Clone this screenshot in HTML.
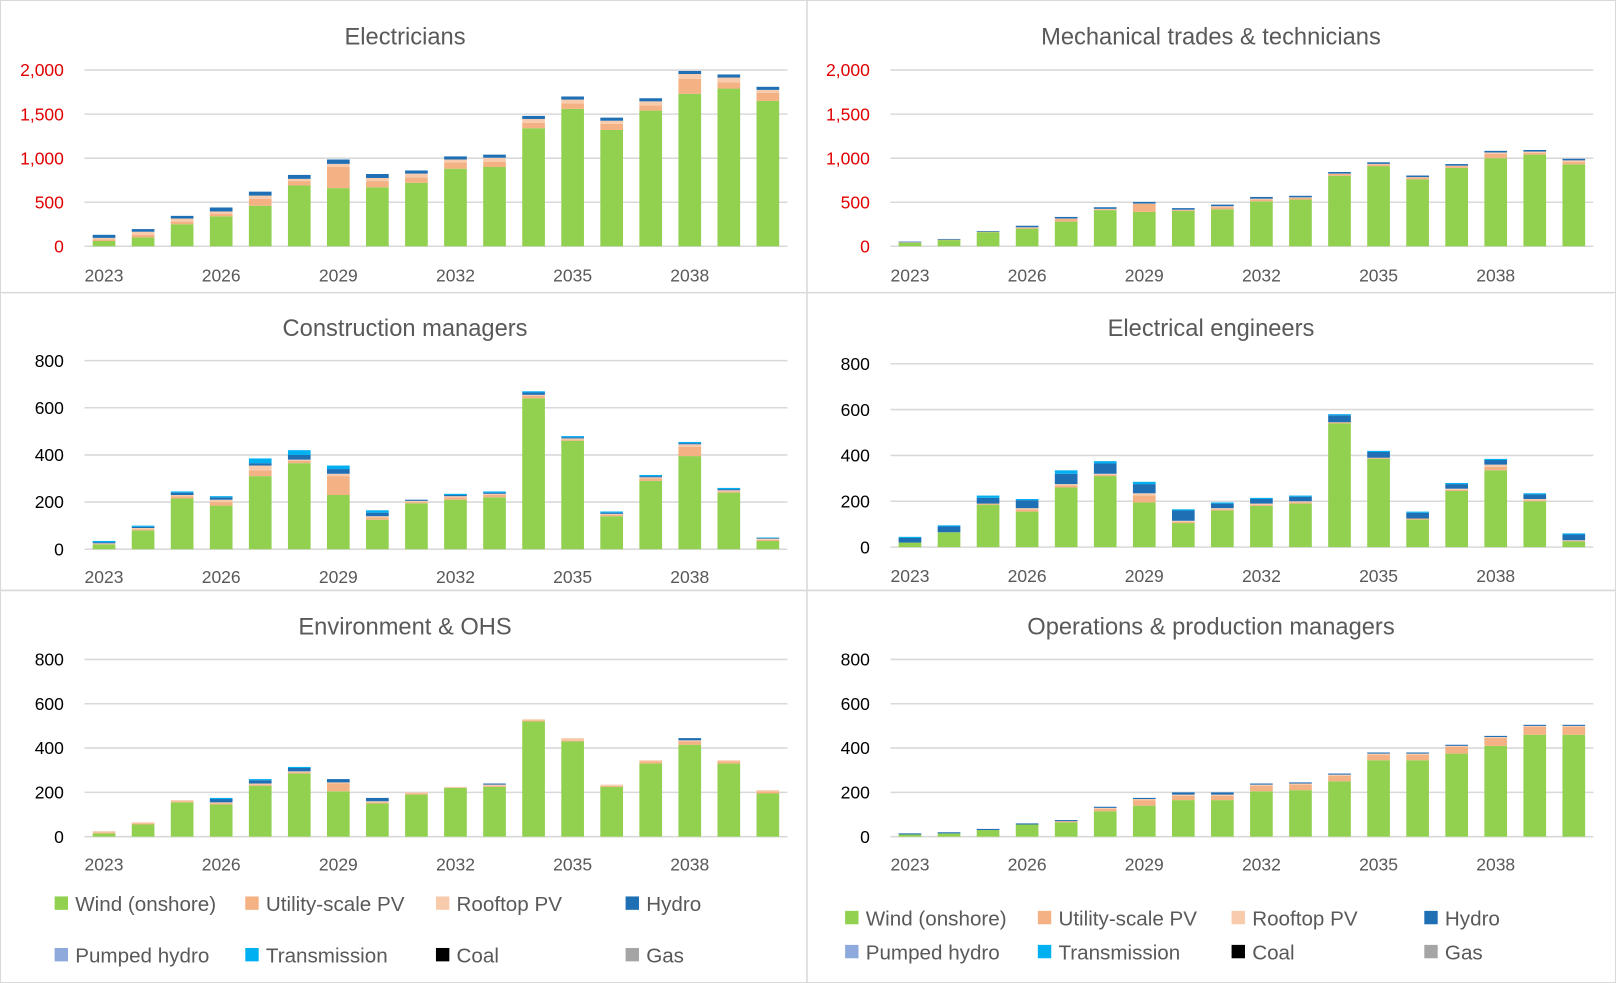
<!DOCTYPE html>
<html><head><meta charset="utf-8"><style>
html,body{margin:0;padding:0;background:#fff;}
svg{display:block;font-family:"Liberation Sans",Calibri,sans-serif;}
</style></head><body>
<svg id="root" width="1616" height="983" viewBox="0 0 1568 954" preserveAspectRatio="none" xmlns="http://www.w3.org/2000/svg">
<rect x="0.5" y="0.5" width="1567" height="953" fill="#fff" stroke="#d9d9d9"/>
<line x1="783" y1="0" x2="783" y2="954" stroke="#d9d9d9" stroke-width="1.5"/>
<line x1="0" y1="284" x2="1568" y2="284" stroke="#d9d9d9" stroke-width="1.5"/>
<line x1="0" y1="573" x2="1568" y2="573" stroke="#d9d9d9" stroke-width="1.5"/>
</svg>
<script>
const years=[2023,2024,2025,2026,2027,2028,2029,2030,2031,2032,2033,2034,2035,2036,2037,2038,2039,2040];
const seriesNames=["Wind (onshore)","Utility-scale PV","Rooftop PV","Hydro","Pumped hydro","Transmission","Coal","Gas"];
const colors=["#92D050","#F4B183","#F8CBAD","#1F6FB5","#8EA9DB","#00B0F0","#000000","#A5A5A5"];

const elecWind=[60,100,250,340,460,690,660,670,720,880,900,1340,1560,1320,1540,1730,1790,1650];
const elecUtil=[20,30,30,30,80,50,240,70,60,70,60,60,60,70,60,170,70,90];
const elecRoof=[15,35,35,25,35,25,35,35,45,35,45,45,45,35,45,55,55,35];
const elecHydro=[35,30,30,45,45,45,50,45,35,35,35,35,35,35,35,35,35,35];

const mechWind=[40,70,160,200,280,410,390,400,420,510,530,800,910,760,890,1000,1040,930];
const mechUtil=[5,5,5,10,30,10,90,10,20,20,20,20,20,20,20,50,20,30];
const mechRoof=[0,0,0,5,5,5,5,5,15,10,5,5,5,5,5,15,15,15];
const mechHydro=[8,8,8,18,18,18,18,18,18,20,18,18,18,18,18,18,18,18];

const consWind=[20,80,215,185,310,365,230,125,195,210,220,640,460,140,290,395,240,35];
const consUtil=[0,5,10,15,25,10,80,10,5,10,10,10,5,5,10,40,5,5];
const consRoof=[5,5,5,10,20,5,10,5,5,5,5,5,5,5,5,10,5,5];
const consHydro=[5,5,10,10,10,20,20,15,5,5,5,10,5,5,5,5,5,3];
const consTrans=[5,5,5,5,20,20,15,10,0,5,5,5,5,5,5,5,5,2];

const engWind=[20,65,185,155,260,310,195,105,160,180,190,540,385,120,245,335,200,25];
const engUtil=[0,0,5,10,10,5,30,5,5,5,5,5,5,5,5,15,5,3];
const engRoof=[0,0,0,5,5,5,10,5,5,5,5,0,0,0,5,10,5,2];
const engHydro=[20,25,25,35,45,45,40,45,20,20,20,30,25,25,20,20,20,25];
const engTrans=[5,5,10,5,15,10,10,5,5,5,5,5,5,5,5,5,5,5];

const envWind=[15,55,155,145,230,285,205,150,190,220,225,520,430,225,330,415,330,195];
const envUtil=[5,5,5,5,5,5,35,5,5,0,5,5,5,5,10,15,10,10];
const envRoof=[5,5,5,5,5,5,5,5,5,5,5,5,10,5,5,5,5,5];
const envHydro=[0,0,0,15,15,15,15,15,0,0,5,0,0,0,0,10,0,0];
const envTrans=[0,0,0,5,5,5,0,0,0,0,0,0,0,0,0,0,0,0];

const opsWind=[10,15,30,55,65,115,140,165,165,205,210,250,345,345,375,410,460,460];
const opsUtil=[0,0,0,0,5,10,25,20,20,25,25,25,25,25,30,35,35,35];
const opsRoof=[0,0,0,0,0,5,5,5,5,5,5,5,5,5,5,5,5,5];
const opsHydro=[5,5,5,5,5,5,5,10,10,5,5,5,5,5,5,5,5,5];

const zeros=years.map(()=>0);
const ticksBig=[0,500,1000,1500,2000];
const ticksSmall=[0,200,400,600,800];
const xLabelYears=[2023,2026,2029,2032,2035,2038];

const NS="http://www.w3.org/2000/svg";
const root=document.getElementById('root');
function mk(tag,attrs,parent,text){const e=document.createElementNS(NS,tag);for(const k in attrs)e.setAttribute(k,attrs[k]);if(text!==undefined)e.textContent=text;(parent||root).appendChild(e);return e;}

const panels=[
 {id:"electricians",title:"Electricians",tx:393,ty:35,x0:82,x1:764,yTop:68,yBot:239,lab:267,max:2000,ticks:ticksBig,red:true,s:[elecWind,elecUtil,elecRoof,elecHydro,zeros,zeros]},
 {id:"mechanical",title:"Mechanical trades & technicians",tx:1175,ty:35,x0:864,x1:1546,yTop:68,yBot:239,lab:267,max:2000,ticks:ticksBig,red:true,s:[mechWind,mechUtil,mechRoof,mechHydro,zeros,zeros]},
 {id:"construction",title:"Construction managers",tx:393,ty:318,x0:82,x1:764,yTop:350,yBot:533,lab:560,max:800,ticks:ticksSmall,red:false,s:[consWind,consUtil,consRoof,consHydro,zeros,consTrans]},
 {id:"elec-engineers",title:"Electrical engineers",tx:1175,ty:318,x0:864,x1:1546,yTop:353,yBot:531,lab:559,max:800,ticks:ticksSmall,red:false,s:[engWind,engUtil,engRoof,engHydro,zeros,engTrans]},
 {id:"environment",title:"Environment & OHS",tx:393,ty:608,x0:82,x1:764,yTop:640,yBot:812,lab:839,max:800,ticks:ticksSmall,red:false,s:[envWind,envUtil,envRoof,envHydro,zeros,envTrans]},
 {id:"operations",title:"Operations & production managers",tx:1175,ty:608,x0:864,x1:1546,yTop:640,yBot:812,lab:839,max:800,ticks:ticksSmall,red:false,s:[opsWind,opsUtil,opsRoof,opsHydro,zeros,zeros]}
];

panels.forEach(p=>{
 const g=mk('g',{});
 
 
 const yS=v=>p.yBot-(v/p.max)*(p.yBot-p.yTop);
 const band=(p.x1-p.x0)/years.length;
 const xS=i=>p.x0+band*(i+0.5);
 const t=mk('text',{x:p.tx,y:p.ty+8,'text-anchor':'middle','font-size':23,fill:'#595959'},g,p.title);
 
 
 p.ticks.forEach(v=>{
  const y=yS(v);
  const gl=mk('line',{x1:p.x0,x2:p.x1,y1:y,y2:y,stroke:'#d9d9d9','stroke-width':1.5},g);
  
  
  const tl=mk('text',{x:p.x0-20,y:y+6,'text-anchor':'end','font-size':17,fill:p.red?'#E00000':'#000'},g,v.toLocaleString('en-US'));
  
  
 });
 years.forEach((yr,i)=>{
  let cum=0;
  p.s.forEach((arr,k)=>{
   const v=arr[i]; if(!v)return;
   const y1=yS(cum+v), y0=yS(cum);
   const r=mk('rect',{x:xS(i)-11,y:y1,width:22,height:Math.max(0,y0-y1),fill:colors[k]},g);
   
   
   cum+=v;
  });
  if(xLabelYears.includes(yr)){
   const xl=mk('text',{x:xS(i),y:p.lab+6,'text-anchor':'middle','font-size':17,fill:'#595959'},g,String(yr));
   
   
  }
 });
});

function legend(xs,ys,name){
 const g=mk('g',{});
 
 
 seriesNames.forEach((n,i)=>{
  const x=xs[i%4], y=ys[Math.floor(i/4)];
  const e=mk('g',{},g);
  
  
  mk('rect',{x:x,y:y-7,width:13,height:13,fill:colors[i]},e);
  mk('text',{x:x+20,y:y+7,'font-size':20,fill:'#595959'},e,n);
 });
}
legend([53,238,423,607],[877,927],'legend-left');
legend([820,1007,1195,1382],[891,924],'legend-right');
</script>
</body></html>
